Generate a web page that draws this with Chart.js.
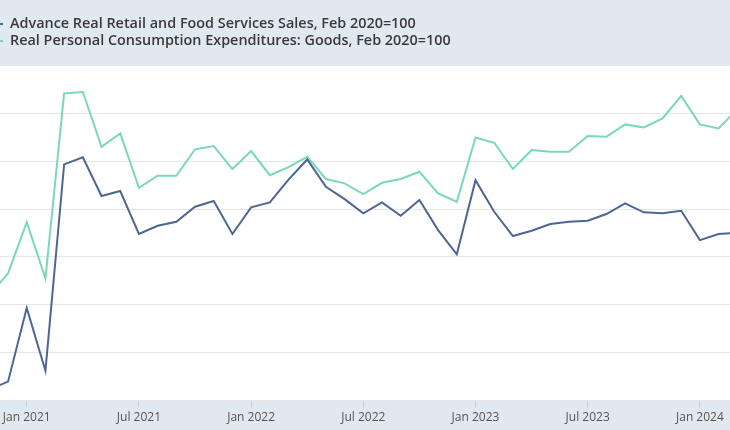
<!DOCTYPE html>
<html>
<head>
<meta charset="utf-8">
<script src="https://cdn.jsdelivr.net/npm/chart.js@4/dist/chart.umd.min.js"></script>
<style>
html,body{margin:0;padding:0;background:#e1e9f0;}
#wrap{width:730px;height:430px;position:relative;}
</style>
</head>
<body>
<div id="wrap"><canvas id="c" width="730" height="430"></canvas></div>
<script>
// ---- data (index = Feb 2020 = 100) ----
const months = [
  'Nov 2020','Dec 2020',
  'Jan 2021','Feb 2021','Mar 2021','Apr 2021','May 2021','Jun 2021','Jul 2021','Aug 2021','Sep 2021','Oct 2021','Nov 2021','Dec 2021',
  'Jan 2022','Feb 2022','Mar 2022','Apr 2022','May 2022','Jun 2022','Jul 2022','Aug 2022','Sep 2022','Oct 2022','Nov 2022','Dec 2022',
  'Jan 2023','Feb 2023','Mar 2023','Apr 2023','May 2023','Jun 2023','Jul 2023','Aug 2023','Sep 2023','Oct 2023','Nov 2023','Dec 2023',
  'Jan 2024','Feb 2024','Mar 2024'
];
const retailSales = [
  100.58,100.99,
  104.83,101.56,112.33,112.70,110.68,110.94,108.70,109.13,109.34,110.12,110.42,108.70,
  110.09,110.35,111.54,112.59,111.16,110.52,109.78,110.35,109.65,110.47,108.90,107.64,
  111.51,109.86,108.59,108.87,109.22,109.34,109.39,109.74,110.30,109.83,109.78,109.91,
  108.38,108.70,108.77
];
const pceGoods = [
  105.50,106.64,
  109.31,106.38,116.04,116.11,113.25,113.95,111.11,111.74,111.74,113.12,113.29,112.09,
  113.03,111.77,112.19,112.73,111.57,111.34,110.78,111.37,111.57,111.95,110.82,110.38,
  113.74,113.46,112.09,113.08,112.99,112.99,113.81,113.77,114.42,114.26,114.73,115.90,
  114.42,114.21,115.22
];
const seriesNames = [
  'Advance Real Retail and Food Services Sales, Feb 2020=100',
  'Real Personal Consumption Expenditures: Goods, Feb 2020=100'
];
const seriesColors = ['#4d6792', '#78d8b9'];
const tickLabels = ['Jan 2021','Jul 2021','Jan 2022','Jul 2022','Jan 2023','Jul 2023','Jan 2024'];
const yTicks = [100, 102.5, 105, 107.5, 110, 112.5, 115, 117.5];

// month index relative to Jan 2021
const base = months.indexOf('Jan 2021');
const toPoints = arr => arr.map((v, i) => ({x: i - base, y: v}));
const tickPos = tickLabels.map(l => months.indexOf(l) - base);

const bandColor = '#e1e9f0';

const bgPlugin = {
  id: 'bg',
  beforeDraw(chart) {
    const {ctx, chartArea: a} = chart;
    ctx.save();
    ctx.fillStyle = bandColor;
    ctx.fillRect(0, 0, chart.width, chart.height);
    ctx.fillStyle = '#ffffff';
    ctx.fillRect(a.left, a.top, a.right - a.left, a.bottom - a.top);
    ctx.restore();
  }
};

const legendPlugin = {
  id: 'topLegend',
  afterDraw(chart) {
    const ctx = chart.ctx;
    ctx.save();
    ctx.font = '600 14.4px "Open Sans"';
    ctx.textBaseline = 'middle';
    chart.data.datasets.forEach((ds, i) => {
      const y = 24 + i * 17;
      ctx.strokeStyle = ds.borderColor;
      ctx.lineWidth = 2;
      ctx.beginPath();
      ctx.moveTo(-10, y);
      ctx.lineTo(3, y);
      ctx.stroke();
      ctx.fillStyle = '#3a3a3a';
      ctx.fillText(ds.label, 10, y);
    });
    ctx.restore();
  }
};

new Chart(document.getElementById('c'), {
  type: 'line',
  data: {
    datasets: [
      {label: seriesNames[0], data: toPoints(retailSales), borderColor: seriesColors[0], borderWidth: 2, pointRadius: 0, tension: 0},
      {label: seriesNames[1], data: toPoints(pceGoods), borderColor: seriesColors[1], borderWidth: 2, pointRadius: 0, tension: 0}
    ]
  },
  options: {
    responsive: false,
    animation: false,
    devicePixelRatio: 1,
    layout: {padding: {top: 65.4, left: 0, right: 0, bottom: 0}},
    plugins: {legend: {display: false}, tooltip: {enabled: false}},
    scales: {
      x: {
        type: 'linear',
        min: -1.43,
        max: 37.61,
        afterBuildTicks(s) { s.ticks = tickPos.map(v => ({value: v})); },
        afterFit(s) { s.height = 29.4; s.paddingLeft = 0; s.paddingRight = 0; },
        ticks: {
          autoSkip: false, maxRotation: 0, padding: 3,
          color: '#555555',
          font: {family: '"Open Sans"', size: 12},
          callback: (v, i) => tickLabels[i]
        },
        grid: {drawOnChartArea: false, drawTicks: true, tickLength: 7, color: '#c5cfda'},
        border: {display: false}
      },
      y: {
        min: yTicks[0],
        max: yTicks[yTicks.length - 1],
        afterBuildTicks(s) { s.ticks = yTicks.map(v => ({value: v})); },
        afterFit(s) { s.width = 0; },
        ticks: {display: false},
        grid: {color: '#e6e6e6', drawTicks: false, lineWidth: 1},
        border: {display: false}
      }
    }
  },
  plugins: [bgPlugin, legendPlugin]
});
</script>
</body>
</html>
